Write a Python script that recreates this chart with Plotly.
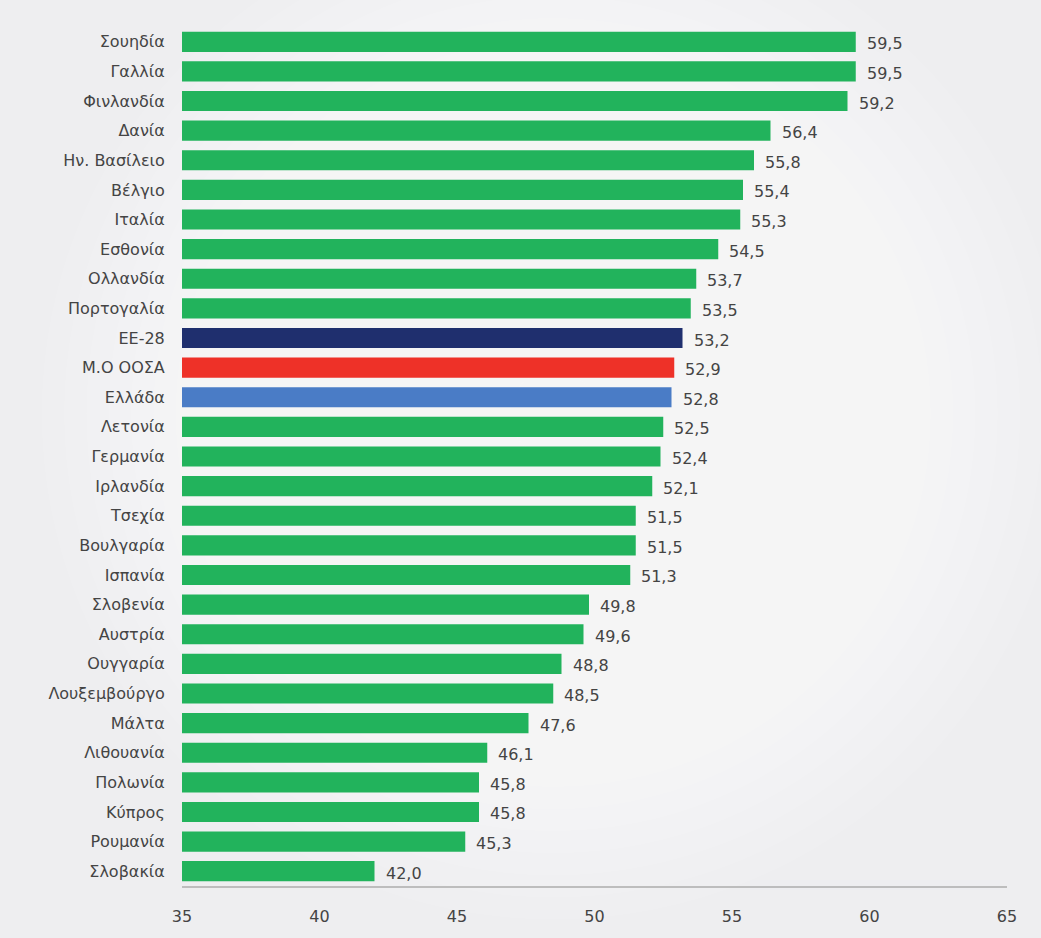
import plotly.graph_objects as go

countries = ["Σουηδία", "Γαλλία", "Φινλανδία", "Δανία", "Ην. Βασίλειο", "Βέλγιο", "Ιταλία",
             "Εσθονία", "Ολλανδία", "Πορτογαλία", "ΕΕ-28", "Μ.Ο ΟΟΣΑ", "Ελλάδα", "Λετονία",
             "Γερμανία", "Ιρλανδία", "Τσεχία", "Βουλγαρία", "Ισπανία", "Σλοβενία", "Αυστρία",
             "Ουγγαρία", "Λουξεμβούργο", "Μάλτα", "Λιθουανία", "Πολωνία", "Κύπρος", "Ρουμανία",
             "Σλοβακία"]
values = [59.5, 59.5, 59.2, 56.4, 55.8, 55.4, 55.3, 54.5, 53.7, 53.5, 53.2, 52.9, 52.8, 52.5,
          52.4, 52.1, 51.5, 51.5, 51.3, 49.8, 49.6, 48.8, 48.5, 47.6, 46.1, 45.8, 45.8, 45.3, 42.0]
x_ticks = [35, 40, 45, 50, 55, 60, 65]

GREEN = "#22b35c"
special = {"ΕΕ-28": "#1f2f6e", "Μ.Ο ΟΟΣΑ": "#ee3128", "Ελλάδα": "#4a7cc6"}
colors = [special.get(c, GREEN) for c in countries]
labels = [f"{v:.1f}".replace(".", ",") for v in values]

FONT = "'DejaVu Sans', Verdana, sans-serif"

fig = go.Figure()
fig.add_trace(go.Bar(
    x=[v - 35 for v in values], base=35, y=countries, orientation="h",
    marker=dict(color=colors, line=dict(width=0)),
    width=0.68, hoverinfo="skip",
))

for c, v, t in zip(countries, values, labels):
    fig.add_annotation(x=v, y=c, text=t, showarrow=False, xanchor="left", xshift=9,
                       yshift=-2, font=dict(family=FONT, size=16, color="#444"))

# soft radial background glow
shapes = []
n = 22
for i in range(n):
    r = 0.62 - i * 0.027
    shapes.append(dict(type="circle", xref="paper", yref="paper", layer="below",
                       x0=0.45 - r, x1=0.45 + r, y0=0.55 - r * 0.95, y1=0.55 + r * 0.95,
                       fillcolor="rgba(255,255,255,0.09)", line=dict(width=0)))

fig.update_layout(
    width=1041, height=938,
    margin=dict(l=182, r=34, t=27, b=52),
    paper_bgcolor="#eeeef0", plot_bgcolor="rgba(0,0,0,0)",
    showlegend=False,
    shapes=shapes,
    font=dict(family=FONT, size=16, color="#444"),
)
fig.update_xaxes(range=[35, 65], tickvals=x_ticks, showgrid=False, zeroline=False,
                 showline=True, linecolor="#bdbdbd", linewidth=1.5,
                 ticks="outside", ticklen=15, tickcolor="rgba(0,0,0,0)",
                 tickfont=dict(size=16, color="#444"), fixedrange=True)
fig.update_yaxes(autorange="reversed", showgrid=False, zeroline=False, showline=False,
                 ticks="outside", ticklen=13, tickcolor="rgba(0,0,0,0)",
                 tickfont=dict(size=16, color="#444"), fixedrange=True)

fig.write_html("out.html", config={"displayModeBar": False})
